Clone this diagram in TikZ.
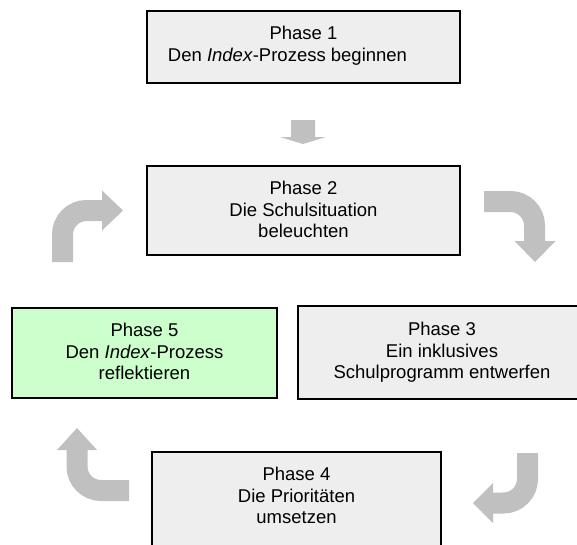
\documentclass[tikz,border=0pt]{standalone}
\usepackage{fontspec}
\setmainfont{Liberation Sans}
\usepackage{tikz}
\usetikzlibrary{positioning}

\definecolor{boxgray}{RGB}{238,238,238}
\definecolor{boxgreen}{RGB}{204,255,204}
\definecolor{arrowgray}{RGB}{192,192,192}

\tikzset{
  phase/.style={draw=black, line width=1.6pt, fill=boxgray, inner sep=0pt},
  phasetext/.style={align=center, inner sep=0pt, font=\fontsize{18.5}{21.3}\selectfont},
  curvearrow/.style={draw=arrowgray, line width=21pt, rounded corners=24pt},
  arrowhead/.style={fill=arrowgray}
}

\begin{document}
\begin{tikzpicture}[x=1pt, y=1pt]
      \clip (0,0) rectangle (577,-544);
      % the five phases
      \node[phase, minimum width=313pt, minimum height=72pt] (p1) at (303.5,-47) {};
      \node[phasetext, below=16pt of p1.north] (t1) {Phase 1\\Den \textit{Index}-Prozess beginnen\hspace*{32pt}};
      \node[phase, minimum width=313pt, minimum height=89pt] (p2) at (303.5,-210.5) {};
      \node[phasetext, below=16pt of p2.north] (t2) {Phase 2\\Die Schulsituation\\beleuchten};
      \node[phase, minimum width=288pt, minimum height=93pt] (p3) at (442,-352.5) {};
      \node[phasetext, below=17pt of p3.north] (t3) {Phase 3\\Ein inklusives\\Schulprogramm entwerfen};
      \node[phase, minimum width=289pt, minimum height=108pt] (p4) at (296.5,-506) {};
      \node[phasetext, below=16pt of p4.north] (t4) {Phase 4\\Die Priorit\"aten\\umsetzen};
      \node[phase, fill=boxgreen, minimum width=265pt, minimum height=90pt] (p5) at (144.5,-353) {};
      \node[phasetext, below=16pt of p5.north] (t5) {Phase 5\\Den \textit{Index}-Prozess\\reflektieren};
      % block arrows
      \fill[arrowgray] (291,-120) -- (315,-120) -- (315,-137) -- (326,-137) -- (303,-144)
        -- (280,-137) -- (291,-137) -- cycle;
      \draw[curvearrow] (484,-201.5) -| (534.5,-241);
      \fill[arrowhead] (514.5,-241) -- (535,-262) -- (555.5,-241) -- cycle;
      \draw[curvearrow] (527.5,-453) |- (493,-503);
      \fill[arrowhead] (493,-483) -- (473,-503) -- (493,-523) -- cycle;
      \draw[curvearrow] (129,-490.5) -| (77,-450);
      \fill[arrowhead] (57,-450) -- (77,-428) -- (97,-450) -- cycle;
      \draw[curvearrow] (62.5,-262) |- (102,-210.5);
      \fill[arrowhead] (102,-190.5) -- (123,-210.5) -- (102,-230.5) -- cycle;
    \end{tikzpicture}
\end{document}
